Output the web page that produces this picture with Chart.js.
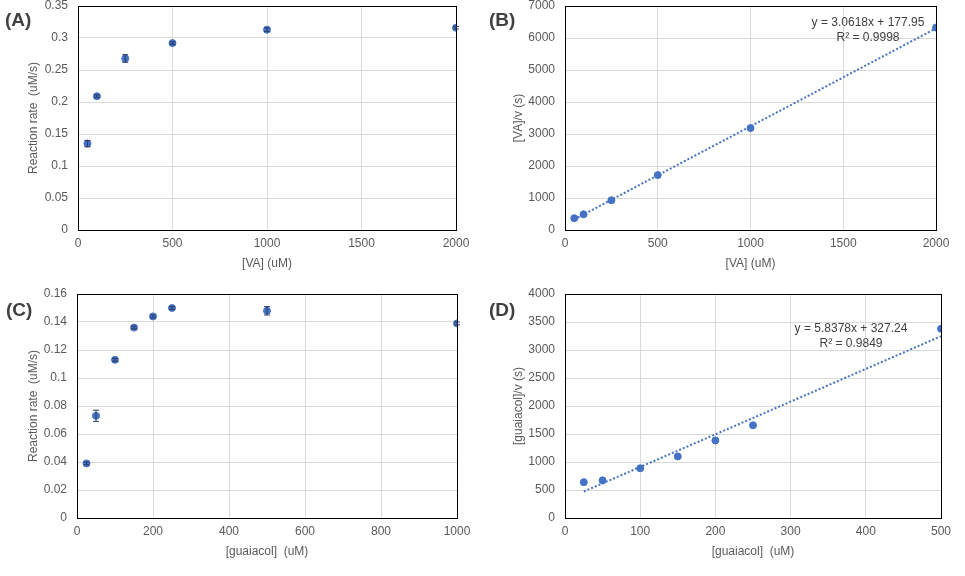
<!DOCTYPE html>
<html>
<head>
<meta charset="utf-8">
<script src="https://cdn.jsdelivr.net/npm/chart.js@4"></script>
<style>
  body { margin: 0; background: #fff; }
  #wrap { position: relative; width: 965px; height: 576px; }
  canvas { position: absolute; }
  .tag { position: absolute; font: bold 19px "Liberation Sans", Arial, sans-serif; color: #404040; }
</style>
</head>
<body>
<div id="wrap">
  <canvas id="cA" width="480" height="285" style="left:0;top:0"></canvas>
  <canvas id="cB" width="485" height="285" style="left:480px;top:0"></canvas>
  <canvas id="cC" width="480" height="291" style="left:0;top:285px"></canvas>
  <canvas id="cD" width="485" height="291" style="left:480px;top:285px"></canvas>
  <div class="tag" style="left:5px;top:9px">(A)</div>
  <div class="tag" style="left:489px;top:9px">(B)</div>
  <div class="tag" style="left:6px;top:299px">(C)</div>
  <div class="tag" style="left:489px;top:299px">(D)</div>
</div>
<script>
// VA (veratryl alcohol) series
const vaConc = [50, 100, 250, 500, 1000, 2000];
const vaRate = [0.135, 0.209, 0.268, 0.292, 0.313, 0.316];
const vaRateErr = [0.005, 0.002, 0.006, 0.002, 0.003, 0.002];
const vaHanes = [370, 490, 930, 1715, 3185, 6325];
const vaTrendX = [50, 2000];
const vaTrendY = [331, 6302];
const vaEquation = ['y = 3.0618x + 177.95', 'R² = 0.9998'];

// guaiacol series
const guConc = [25, 50, 100, 150, 200, 250, 500, 1000];
const guRate = [0.039, 0.073, 0.113, 0.136, 0.144, 0.150, 0.148, 0.139];
const guRateErr = [0.001, 0.004, 0.001, 0.001, 0.001, 0.001, 0.003, 0.001];
const guHanesX = [25, 50, 100, 150, 200, 250, 500];
const guHanes = [640, 672, 888, 1100, 1385, 1655, 3380];
const guTrendX = [25, 500];
const guTrendY = [473, 3246];
const guEquation = ['y = 5.8378x + 327.24', 'R² = 0.9849'];

const FONT = '"Liberation Sans", Arial, sans-serif';
const BLUE = '#4472C4';
const GREY = '#595959';

const pts = (xs, ys) => xs.map((x, i) => ({ x: x, y: ys[i] }));
const fmt = v => String(Number(v.toFixed(4)));

const frame = {
  id: 'frame',
  afterDatasetsDraw(chart) {
    const a = chart.chartArea, ctx = chart.ctx;
    ctx.save();
    ctx.strokeStyle = '#000';
    ctx.lineWidth = 1;
    ctx.strokeRect(Math.round(a.left) + 0.5, Math.round(a.top) + 0.5,
      Math.round(a.right - a.left), Math.round(a.bottom - a.top));
    ctx.restore();
  }
};

const errorBars = {
  id: 'errorBars',
  afterDatasetsDraw(chart) {
    const ctx = chart.ctx, xs = chart.scales.x, ys = chart.scales.y;
    chart.data.datasets.forEach(ds => {
      if (!ds.errors) return;
      ctx.save();
      ctx.strokeStyle = '#2d3b66';
      ctx.lineWidth = 1;
      ds.data.forEach((p, i) => {
        const e = ds.errors[i];
        const px = xs.getPixelForValue(p.x);
        const y1 = ys.getPixelForValue(p.y + e), y2 = ys.getPixelForValue(p.y - e);
        ctx.beginPath();
        ctx.moveTo(px, y1); ctx.lineTo(px, y2);
        ctx.moveTo(px - 3, y1); ctx.lineTo(px + 3, y1);
        ctx.moveTo(px - 3, y2); ctx.lineTo(px + 3, y2);
        ctx.stroke();
      });
      ctx.restore();
    });
  }
};

const equation = {
  id: 'equation',
  afterDatasetsDraw(chart) {
    const opt = chart.options.plugins.equation;
    if (!opt || !opt.lines) return;
    const a = chart.chartArea, ctx = chart.ctx;
    ctx.save();
    ctx.font = '12px ' + FONT;
    ctx.fillStyle = '#404040';
    ctx.textAlign = 'center';
    ctx.textBaseline = 'middle';
    opt.lines.forEach((t, i) => ctx.fillText(t, a.right - opt.dx, a.top + opt.dy + i * 15));
    ctx.restore();
  }
};

function panel(id, cfg) {
  const datasets = [{
    data: cfg.points,
    errors: cfg.errors,
    pointRadius: 3.5,
    pointHoverRadius: 3.5,
    backgroundColor: BLUE,
    borderColor: BLUE,
    showLine: false
  }];
  if (cfg.trend) {
    datasets.unshift({
      data: cfg.trend,
      showLine: true,
      pointRadius: 0,
      borderColor: BLUE,
      borderWidth: 2,
      borderDash: [2, 2]
    });
  }
  new Chart(document.getElementById(id), {
    type: 'scatter',
    data: { datasets: datasets },
    options: {
      responsive: false,
      animation: false,
      layout: { autoPadding: false, padding: { left: 0, top: cfg.top, right: cfg.right, bottom: 0 } },
      plugins: {
        legend: { display: false },
        tooltip: { enabled: false },
        equation: cfg.eq || {}
      },
      scales: {
        x: {
          type: 'linear',
          min: cfg.xMin, max: cfg.xMax,
          afterFit: s => { s.height = cfg.xH; s.paddingLeft = 0; s.paddingRight = 0; },
          grid: { color: '#d9d9d9', drawTicks: false },
          border: { color: '#000' },
          ticks: { stepSize: cfg.xStep, color: GREY, padding: 6, font: { family: FONT, size: 12 }, callback: fmt, maxRotation: 0 },
          title: { display: true, text: cfg.xTitle, color: GREY, font: { family: FONT, size: 12 }, padding: { top: 0, bottom: cfg.xTitlePad } }
        },
        y: {
          min: cfg.yMin, max: cfg.yMax,
          afterFit: s => { s.width = cfg.yW; s.paddingTop = 0; s.paddingBottom = 0; },
          grid: { color: '#d9d9d9', drawTicks: false },
          border: { color: '#000' },
          ticks: { stepSize: cfg.yStep, color: GREY, padding: 10, font: { family: FONT, size: 12 }, callback: fmt },
          title: { display: true, text: cfg.yTitle, color: GREY, font: { family: FONT, size: 12 }, padding: { top: cfg.yTitlePad, bottom: 0 } }
        }
      }
    },
    plugins: [frame, errorBars, equation]
  });
}

panel('cA', {
  points: pts(vaConc, vaRate), errors: vaRateErr,
  xMin: 0, xMax: 2000, xStep: 500, yMin: 0, yMax: 0.35, yStep: 0.05,
  xTitle: '[VA] (uM)', yTitle: 'Reaction rate  (uM/s)',
  top: 6, right: 24, yW: 78, xH: 55, yTitlePad: 26, xTitlePad: 14
});

panel('cB', {
  points: pts(vaConc, vaHanes), trend: pts(vaTrendX, vaTrendY),
  xMin: 0, xMax: 2000, xStep: 500, yMin: 0, yMax: 7000, yStep: 1000,
  xTitle: '[VA] (uM)', yTitle: '[VA]/v (s)',
  top: 6, right: 29, yW: 85, xH: 55, yTitlePad: 31, xTitlePad: 14,
  eq: { lines: vaEquation, dx: 68, dy: 17 }
});

panel('cC', {
  points: pts(guConc, guRate), errors: guRateErr,
  xMin: 0, xMax: 1000, xStep: 200, yMin: 0, yMax: 0.16, yStep: 0.02,
  xTitle: '[guaiacol]  (uM)', yTitle: 'Reaction rate  (uM/s)',
  top: 9, right: 23, yW: 77, xH: 58, yTitlePad: 26, xTitlePad: 17
});

panel('cD', {
  points: pts(guHanesX, guHanes), trend: pts(guTrendX, guTrendY),
  xMin: 0, xMax: 500, xStep: 100, yMin: 0, yMax: 4000, yStep: 500,
  xTitle: '[guaiacol]  (uM)', yTitle: '[guaiacol]/v (s)',
  top: 9, right: 24, yW: 85, xH: 58, yTitlePad: 31, xTitlePad: 17,
  eq: { lines: guEquation, dx: 90, dy: 35 }
});
</script>
</body>
</html>
